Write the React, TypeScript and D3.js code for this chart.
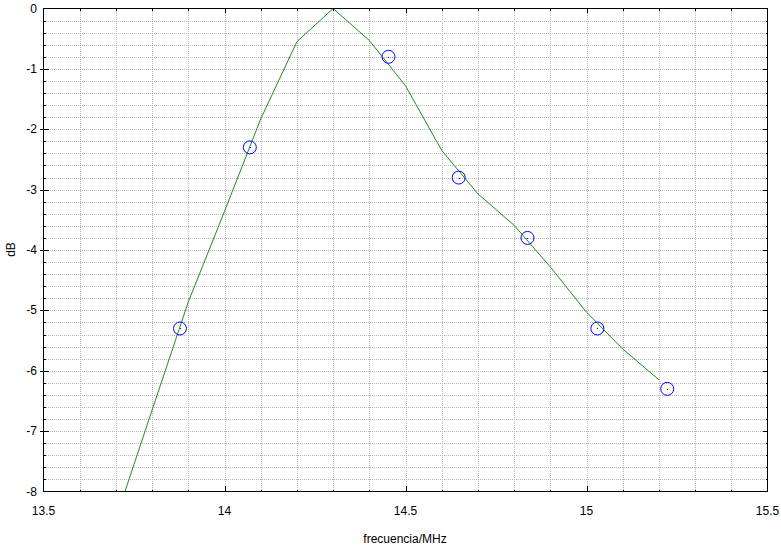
import React from "react";
import * as d3 from "d3";

const lineFreq = [13.7, 13.8, 13.9, 14.0, 14.1, 14.2, 14.3, 14.4, 14.5, 14.6, 14.7, 14.8, 14.9, 15.0, 15.1, 15.2];
const lineDb = [-8.45, -6.65, -4.86, -3.36, -1.83, -0.55, 0, -0.53, -1.28, -2.35, -3.07, -3.59, -4.28, -5.03, -5.64, -6.15];

const markerFreq = [13.877, 14.07, 14.453, 14.647, 14.837, 15.03, 15.223];
const markerDb = [-5.3, -2.3, -0.8, -2.8, -3.8, -5.3, -6.3];

const xTicks = [13.5, 14, 14.5, 15, 15.5];
const xTickLabels = ["13.5", "14", "14.5", "15", "15.5"];
const yTicks = [-8, -7, -6, -5, -4, -3, -2, -1, 0];
const yTickLabels = ["-8", "-7", "-6", "-5", "-4", "-3", "-2", "-1", "0"];

const W = 781;
const H = 546;
const L = 43, R = 767, T = 8, B = 491;

export default function App() {
  const x = d3.scaleLinear().domain([13.5, 15.5]).range([L + 0.5, R + 0.5]);
  const y = d3.scaleLinear().domain([-8, 0]).range([B + 0.5, T + 0.5]);

  const xMinor = d3.range(1, 20).map((i) => 13.5 + i * 0.1);
  const yMinor = d3.range(1, 40).map((i) => -8 + i * 0.2);

  const lineGen = d3
    .line<number>()
    .x((_, i) => x(lineFreq[i]))
    .y((d) => y(d));

  const font = "'Liberation Sans', Arial, sans-serif";
  const gridColor = "#b8b8b8";

  return (
    <svg
      width={W}
      height={H}
      style={{ position: "absolute", left: 0, top: 0, background: "#fff" }}
      fontFamily={font}
    >
      <defs>
        <clipPath id="plotClip">
          <rect x={L} y={T} width={R - L + 1} height={B - T + 1} />
        </clipPath>
      </defs>
      <rect x={0} y={0} width={W} height={H} fill="#fff" />
      {/* grid */}
      <g stroke={gridColor} strokeWidth={1} strokeDasharray="1,1" shapeRendering="crispEdges">
        {xMinor.map((v, i) => (
          <line key={"gx" + i} x1={Math.round(x(v)) + 0.5} x2={Math.round(x(v)) + 0.5} y1={T + 1} y2={B} />
        ))}
        {yMinor.map((v, i) => (
          <line key={"gy" + i} x1={L + 1} x2={R} y1={Math.round(y(v)) + 0.5} y2={Math.round(y(v)) + 0.5} />
        ))}
      </g>
      {/* ticks */}
      <g stroke="#000" strokeWidth={1} shapeRendering="crispEdges">
        {xMinor.map((v, i) => {
          const px = Math.round(x(v)) + 0.5;
          const major = xTicks.some((t) => Math.abs(t - v) < 1e-6);
          const len = major ? 6 : 2;
          return (
            <g key={"tx" + i}>
              <line x1={px} x2={px} y1={B + 0.5} y2={B + 0.5 - len} />
              <line x1={px} x2={px} y1={T + 0.5} y2={T + 0.5 + (major ? 4 : 2)} />
            </g>
          );
        })}
        {yMinor.map((v, i) => {
          const py = Math.round(y(v)) + 0.5;
          const major = yTicks.some((t) => Math.abs(t - v) < 1e-6);
          return (
            <g key={"ty" + i}>
              <line x1={L + 0.5} x2={L + 0.5 + (major ? 5 : 2)} y1={py} y2={py} />
              <line x1={R + 0.5} x2={R + 0.5 - (major ? 5 : 2)} y1={py} y2={py} />
              {major && <line x1={L + 0.5} x2={L + 0.5 - 4} y1={py} y2={py} />}
            </g>
          );
        })}
      </g>
      {/* series */}
      <g clipPath="url(#plotClip)">
        <path d={lineGen(lineDb) || ""} fill="none" stroke="#1a8f1a" strokeWidth={1} />
        {markerDb.map((d, i) => (
          <g key={"m" + i}>
            <circle cx={x(markerFreq[i])} cy={y(d)} r={6.5} fill="none" stroke="#0000ff" strokeWidth={1} />
            <rect x={Math.round(x(markerFreq[i]))} y={Math.round(y(d))} width={1} height={1} fill="#0000ff" />
          </g>
        ))}
      </g>
      {/* frame */}
      <rect x={L + 0.5} y={T + 0.5} width={R - L} height={B - T} fill="none" stroke="#000" strokeWidth={1.5} shapeRendering="crispEdges" />
      {/* tick labels */}
      <g fontSize={12} fill="#000">
        {xTicks.map((v, i) => (
          <text key={"xl" + i} x={x(v)} y={515} textAnchor="middle">
            {xTickLabels[i]}
          </text>
        ))}
        {yTicks.map((v, i) => (
          <text key={"yl" + i} x={37} y={y(v) + 4} textAnchor="end">
            {yTickLabels[i]}
          </text>
        ))}
      </g>
      <text x={(L + R) / 2} y={543} textAnchor="middle" fontSize={12}>
        frecuencia/MHz
      </text>
      <text transform={`translate(15, ${(T + B) / 2}) rotate(-90)`} textAnchor="middle" fontSize={12}>
        dB
      </text>
    </svg>
  );
}
